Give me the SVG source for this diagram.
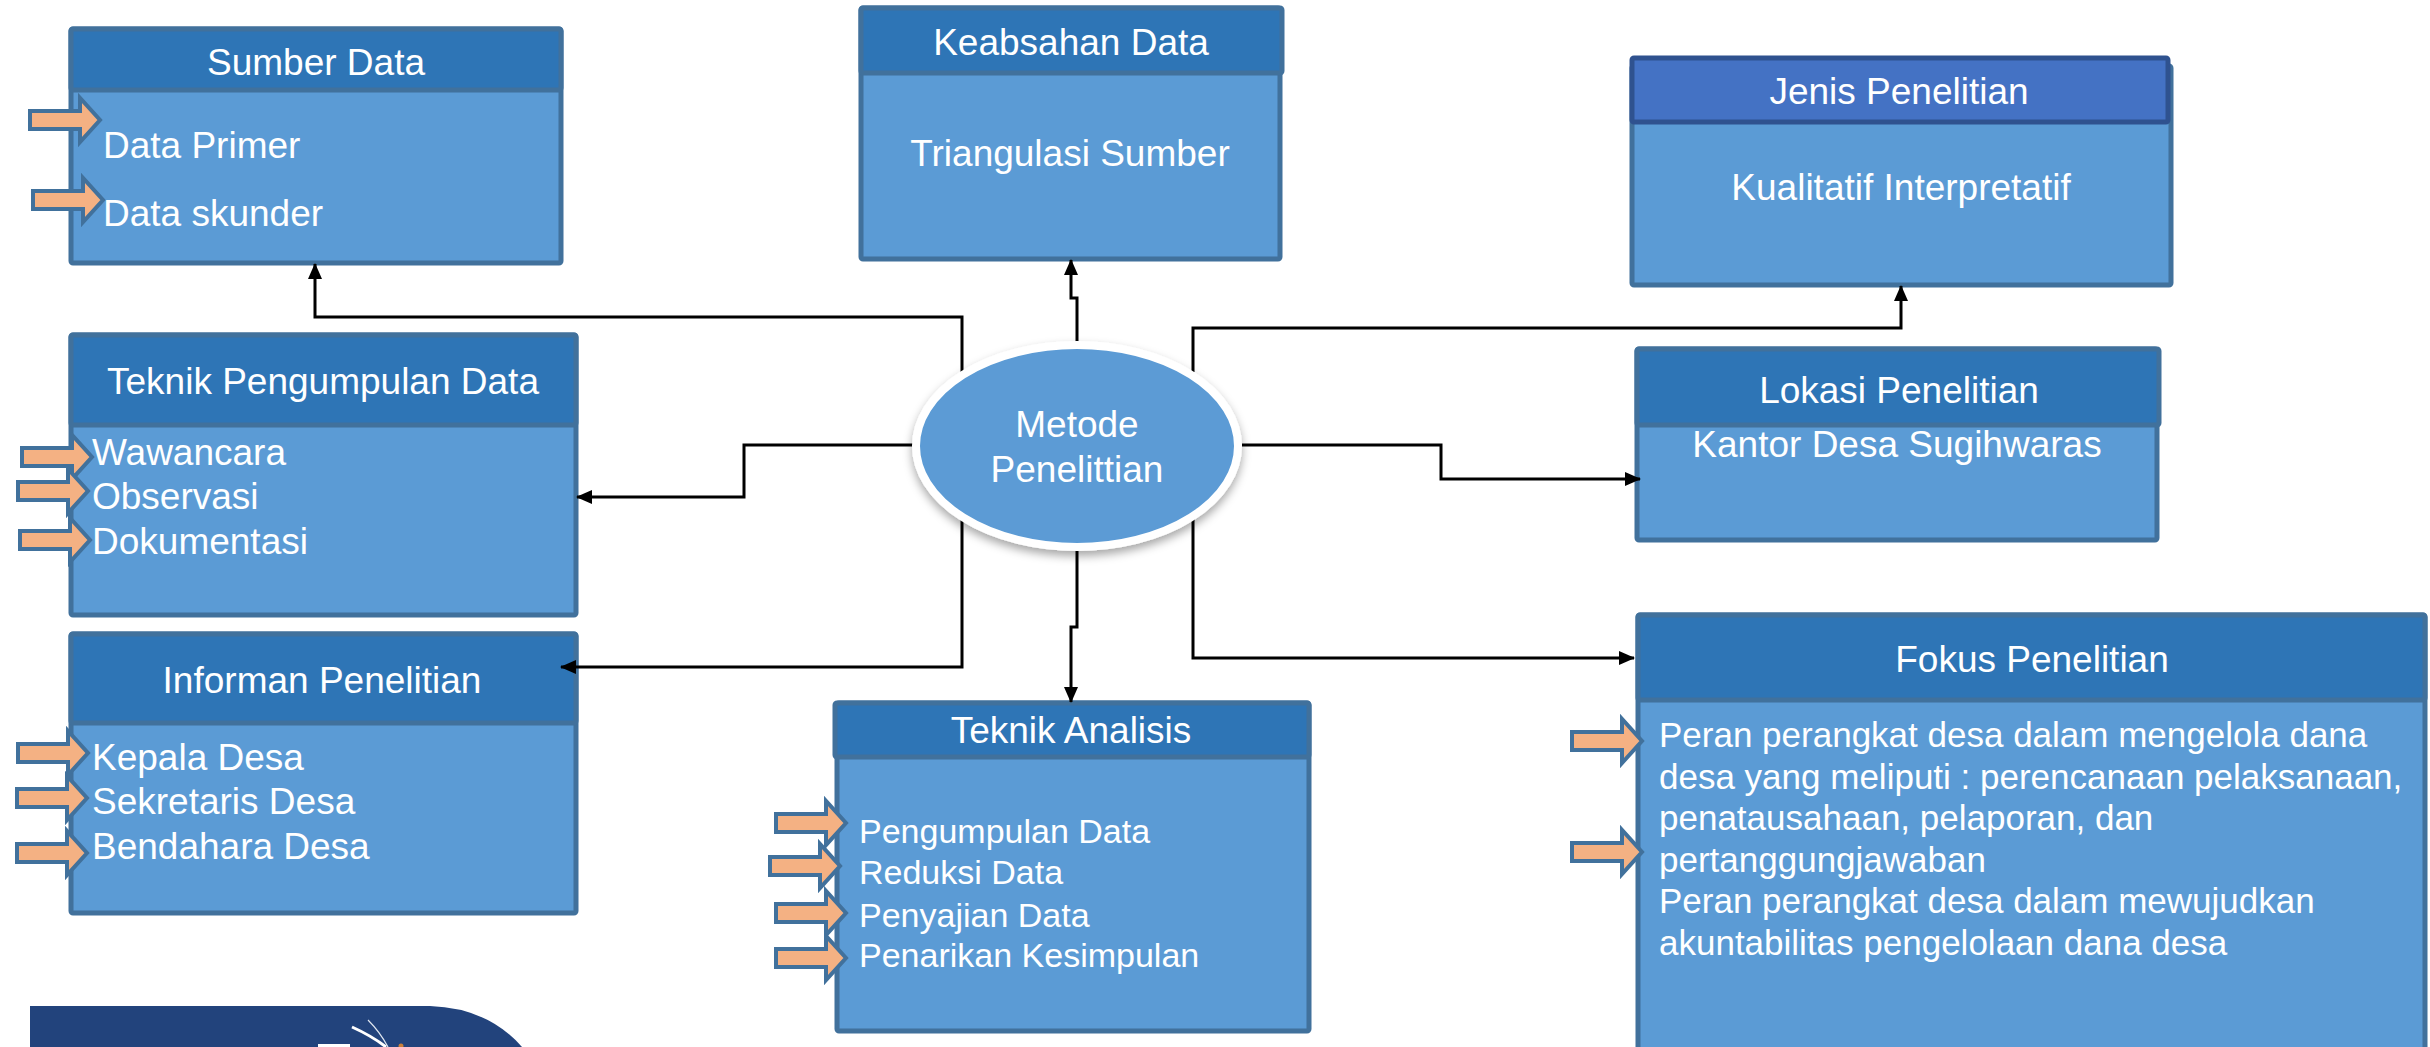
<svg xmlns="http://www.w3.org/2000/svg" width="2430" height="1047" viewBox="0 0 2430 1047">
<style>
.body{fill:#5B9BD5;stroke:#41719C;stroke-width:5}
.head{fill:#2E75B6;stroke:#41719C;stroke-width:5}
.headJ{fill:#4472C4;stroke:#2F528F;stroke-width:5}
.ht{font-family:"Liberation Sans",Arial,sans-serif;font-size:37px;fill:#fff;text-anchor:middle}
.it{font-family:"Liberation Sans",Arial,sans-serif;font-size:37px;fill:#fff}
.it34{font-family:"Liberation Sans",Arial,sans-serif;font-size:34px;fill:#fff}
.it35{font-family:"Liberation Sans",Arial,sans-serif;font-size:35px;fill:#fff}
.conn{fill:none;stroke:#000;stroke-width:3;marker-end:url(#ah)}
.oa{fill:#F4B183;stroke:#41719C;stroke-width:4;stroke-linejoin:miter}
</style>
<defs>
<marker id="ah" markerUnits="userSpaceOnUse" viewBox="0 0 16 14" refX="15" refY="7" markerWidth="16" markerHeight="14" orient="auto">
<path d="M0,0 L16,7 L0,14 z" fill="#000"/>
</marker>
<path id="barrow" d="M-70,-9 H-20 V-22 L0,0 L-20,22 V9 H-70 Z"/>
<filter id="sh" x="-20%" y="-20%" width="140%" height="150%">
<feDropShadow dx="0" dy="5" stdDeviation="5" flood-color="#000" flood-opacity="0.35"/>
</filter>
</defs>
<rect width="2430" height="1047" fill="#fff"/>

<g id="sumber-data">
<rect class="body" x="71" y="29" width="490" height="234" rx="2"/>
<rect class="head" x="71" y="29" width="490" height="61" rx="2"/>
<text class="ht" x="316" y="75">Sumber Data</text>
<text class="it" x="103" y="158">Data Primer</text>
<text class="it" x="103" y="226">Data skunder</text>
<use href="#barrow" class="oa" x="100" y="120"/>
<use href="#barrow" class="oa" x="103" y="200"/>
</g>

<g id="keabsahan-data">
<rect class="body" x="861" y="8" width="419" height="251" rx="2"/>
<rect class="head" x="861" y="8" width="421" height="65" rx="2"/>
<text class="ht" x="1071" y="55">Keabsahan Data</text>
<text class="it" x="1070" y="166" text-anchor="middle">Triangulasi Sumber</text>
</g>

<g id="jenis-penelitian">
<rect class="body" x="1632" y="66" width="539" height="219" rx="2"/>
<rect class="headJ" x="1632" y="58" width="536" height="64" rx="2"/>
<text class="ht" x="1899" y="104">Jenis Penelitian</text>
<text class="it" x="1901" y="200" text-anchor="middle">Kualitatif Interpretatif</text>
</g>

<g id="teknik-pengumpulan-data">
<rect class="body" x="71" y="335" width="505" height="280" rx="2"/>
<rect class="head" x="71" y="335" width="505" height="90" rx="2"/>
<text class="ht" x="323" y="394">Teknik Pengumpulan Data</text>
<text class="it" x="92" y="465">Wawancara</text>
<text class="it" x="92" y="509">Observasi</text>
<text class="it" x="92" y="554">Dokumentasi</text>
<use href="#barrow" class="oa" x="92" y="457"/>
<use href="#barrow" class="oa" x="88" y="491"/>
<use href="#barrow" class="oa" x="90" y="540"/>
</g>

<g id="lokasi-penelitian">
<rect class="body" x="1637" y="349" width="520" height="191" rx="2"/>
<rect class="head" x="1637" y="349" width="522" height="76" rx="2"/>
<text class="ht" x="1899" y="403">Lokasi Penelitian</text>
<text class="it" x="1897" y="457" text-anchor="middle">Kantor Desa Sugihwaras</text>
</g>

<g id="informan-penelitian">
<rect class="body" x="71" y="634" width="505" height="279" rx="2"/>
<rect class="head" x="71" y="634" width="505" height="89" rx="2"/>
<text class="ht" x="322" y="693">Informan Penelitian</text>
<text class="it" x="92" y="770">Kepala Desa</text>
<text class="it" x="92" y="814">Sekretaris Desa</text>
<text class="it" x="92" y="859">Bendahara Desa</text>
<use href="#barrow" class="oa" x="88" y="753"/>
<use href="#barrow" class="oa" x="87" y="798"/>
<use href="#barrow" class="oa" x="87" y="853"/>
</g>

<g id="teknik-analisis">
<rect class="body" x="837" y="703" width="472" height="328" rx="2"/>
<rect class="head" x="835" y="703" width="474" height="54" rx="2"/>
<text class="ht" x="1071" y="743">Teknik Analisis</text>
<text class="it34" x="859" y="843">Pengumpulan Data</text>
<text class="it34" x="859" y="884">Reduksi Data</text>
<text class="it34" x="859" y="927">Penyajian Data</text>
<text class="it34" x="859" y="967">Penarikan Kesimpulan</text>
<use href="#barrow" class="oa" x="846" y="823"/>
<use href="#barrow" class="oa" x="840" y="866"/>
<use href="#barrow" class="oa" x="846" y="913"/>
<use href="#barrow" class="oa" x="846" y="958"/>
</g>

<g id="fokus-penelitian">
<rect class="body" x="1638" y="615" width="787" height="450" rx="2"/>
<rect class="head" x="1638" y="615" width="787" height="85" rx="2"/>
<text class="ht" x="2032" y="672">Fokus Penelitian</text>
<text class="it35" x="1659" y="747">Peran perangkat desa dalam mengelola dana</text>
<text class="it35" x="1659" y="789">desa yang meliputi : perencanaan pelaksanaan,</text>
<text class="it35" x="1659" y="830">penatausahaan, pelaporan, dan</text>
<text class="it35" x="1659" y="872">pertanggungjawaban</text>
<text class="it35" x="1659" y="913">Peran perangkat desa dalam mewujudkan</text>
<text class="it35" x="1659" y="955">akuntabilitas pengelolaan dana desa</text>
<use href="#barrow" class="oa" x="1642" y="741"/>
<use href="#barrow" class="oa" x="1642" y="852"/>
</g>

<g id="connectors">
<path class="conn" d="M962,372 V317 H315 V264"/>
<path class="conn" d="M1077,342 V298 H1071 V260"/>
<path class="conn" d="M1193,372 V328 H1901 V286"/>
<path class="conn" d="M913,445 H744 V497 H577"/>
<path class="conn" d="M1242,445 H1441 V479 H1640"/>
<path class="conn" d="M962,518 V667 H561"/>
<path class="conn" d="M1077,549 V627 H1071 V702"/>
<path class="conn" d="M1193,519 V658 H1634"/>
</g>

<g id="metode-penelitian">
<ellipse cx="1077" cy="446" rx="161" ry="101" fill="#5B9BD5" stroke="#fff" stroke-width="8" filter="url(#sh)"/>
<text class="ht" x="1077" y="437">Metode</text>
<text class="ht" x="1077" y="482">Penelittian</text>
</g>

<g id="logo">
<path d="M30,1047 V1006 H430 Q488,1008 522,1047 Z" fill="#22437C"/>
<path d="M352,1027 Q372,1036 386,1047" fill="none" stroke="#fff" stroke-width="3"/>
<path d="M368,1020 Q380,1032 388,1047" fill="none" stroke="#dfe6f0" stroke-width="1.2"/>
<path d="M318,1046 L350,1046" fill="none" stroke="#fff" stroke-width="4"/>
<circle cx="401" cy="1046" r="2.5" fill="#C9803A"/>
</g>
</svg>
